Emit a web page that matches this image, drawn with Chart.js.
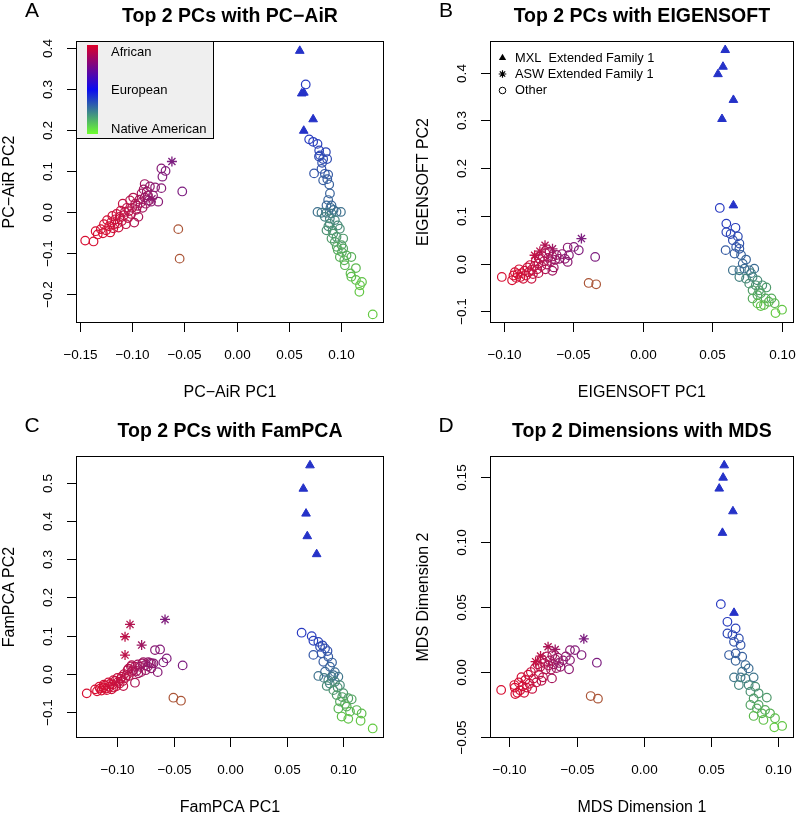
<!DOCTYPE html>
<html><head><meta charset="utf-8">
<script src="https://cdn.jsdelivr.net/npm/chart.js@4.4.0/dist/chart.umd.min.js"></script>
<style>
html,body{margin:0;padding:0;background:#fff;}
#wrap{position:relative;width:800px;height:815px;overflow:hidden;}
canvas{position:absolute;}
</style></head><body>
<div id="wrap">
<canvas id="cA" width="400" height="407" style="left:0;top:0;width:400px;height:407px"></canvas>
<canvas id="cB" width="400" height="407" style="left:400px;top:0;width:400px;height:407px"></canvas>
<canvas id="cC" width="400" height="408" style="left:0;top:407px;width:400px;height:408px"></canvas>
<canvas id="cD" width="400" height="408" style="left:400px;top:407px;width:400px;height:408px"></canvas>
</div>
<script>
// ---------------- DATA ----------------
// Panel A: PC-AiR
const pcairAfrCircles = [[-0.145,-0.070],[-0.137,-0.072],[-0.135,-0.047],[-0.133,-0.055],[-0.130,-0.042],[-0.128,-0.052],[-0.127,-0.030],[-0.125,-0.045],[-0.124,-0.020],[-0.122,-0.035],[-0.121,-0.050],[-0.120,-0.025],[-0.119,-0.010],[-0.118,-0.040],[-0.117,-0.030],[-0.116,-0.018],[-0.115,-0.005],[-0.114,-0.028],[-0.113,-0.038],[-0.112,-0.012],[-0.111,0.003],[-0.110,-0.022],[-0.109,0.020],[-0.108,-0.008],[-0.107,0.000],[-0.106,-0.030],[-0.105,0.010],[-0.104,-0.015],[-0.103,0.002],[-0.102,0.028],[-0.101,-0.005],[-0.100,0.010],[-0.099,0.035],[-0.098,-0.026],[-0.097,0.020],[-0.096,0.005],[-0.095,0.015],[-0.094,-0.012],[-0.093,0.030],[-0.092,0.022],[-0.091,0.045],[-0.090,0.010],[-0.089,0.055],[-0.088,0.035],[-0.088,0.068],[-0.087,0.020],[-0.086,0.050],[-0.085,0.040],[-0.084,0.028],[-0.083,0.062],[-0.082,0.025],[-0.080,0.040],[-0.078,0.060],[-0.075,0.025],[-0.072,0.058],[-0.072,0.106],[-0.068,0.100],[-0.071,0.086],[-0.052,0.050]];
const pcairAdmixedCircles = [[-0.0558,-0.042],[-0.0545,-0.114]];
const pcairMxlCircles = [[0.0663,0.311],[0.0696,0.177],[0.0734,0.171],[0.0776,0.166],[0.0792,0.150],[0.0856,0.146],[0.0800,0.138],[0.079,0.135],[0.083,0.129],[0.0868,0.129],[0.0820,0.120],[0.0814,0.105],[0.0743,0.094],[0.0846,0.093],[0.0878,0.091],[0.0870,0.080],[0.083,0.077],[0.0888,0.067],[0.0895,0.045],[0.0878,0.029],[0.0862,0.016],[0.091,0.016],[0.0900,0.010],[0.0930,0.005],[0.0776,0.0],[0.0814,-0.002],[0.0862,-0.002],[0.091,-0.004],[0.0958,0.0],[0.100,0.0],[0.0846,-0.012],[0.0894,-0.016],[0.0942,-0.020],[0.0894,-0.029],[0.088,-0.035],[0.097,-0.033],[0.099,-0.041],[0.092,-0.045],[0.0862,-0.045],[0.0926,-0.053],[0.0958,-0.061],[0.091,-0.065],[0.1022,-0.065],[0.0942,-0.073],[0.1006,-0.081],[0.096,-0.085],[0.1022,-0.089],[0.097,-0.093],[0.101,-0.098],[0.099,-0.110],[0.1054,-0.106],[0.110,-0.110],[0.1032,-0.118],[0.1038,-0.130],[0.1144,-0.137],[0.1092,-0.150],[0.110,-0.158],[0.1144,-0.166],[0.1202,-0.171],[0.1183,-0.179],[0.1177,-0.195],[0.1305,-0.250]];
const pcairTriangles = [[0.0606,0.393],[0.0625,0.289],[0.0645,0.291],[0.0734,0.226],[0.0644,0.198]];
const pcairStars = [[-0.0619,0.123],[-0.081,0.032]];
const pcairXTickLabels = ["\u22120.15","\u22120.10","\u22120.05","0.00","0.05","0.10"];
const pcairYTickLabels = ["\u22120.2","\u22120.1","0.0","0.1","0.2","0.3","0.4"];

// Panel B: EIGENSOFT
const eigenAfrCircles = [[-0.1014,-0.028],[-0.094,-0.035],[-0.093,-0.025],[-0.092,-0.018],[-0.091,-0.030],[-0.090,-0.022],[-0.089,-0.012],[-0.088,-0.028],[-0.087,-0.020],[-0.086,-0.032],[-0.085,-0.015],[-0.084,-0.025],[-0.083,-0.008],[-0.082,-0.018],[-0.081,-0.003],[-0.080,-0.013],[-0.080,-0.032],[-0.079,-0.022],[-0.078,-0.005],[-0.077,0.005],[-0.076,-0.012],[-0.075,0.000],[-0.075,-0.020],[-0.074,0.010],[-0.073,-0.005],[-0.072,0.015],[-0.071,0.005],[-0.070,0.022],[-0.070,-0.012],[-0.069,-0.002],[-0.068,0.012],[-0.067,0.025],[-0.066,0.005],[-0.065,0.015],[-0.065,-0.015],[-0.064,-0.008],[-0.063,0.008],[-0.062,0.018],[-0.060,0.010],[-0.058,0.020],[-0.056,0.010],[-0.054,0.0336],[-0.0531,0.0175],[-0.054,0.0035],[-0.0495,0.035],[-0.046,0.028],[-0.0342,0.014]];
const eigenAdmixedCircles = [[-0.0389,-0.0406],[-0.0335,-0.0434]];
const eigenMxlCircles = [[0.0555,0.1166],[0.0602,0.0838],[0.0668,0.075],[0.0602,0.066],[0.0633,0.062],[0.0685,0.057],[0.0649,0.049],[0.0696,0.042],[0.0673,0.035],[0.0597,0.0282],[0.0696,0.031],[0.0661,0.021],[0.0708,0.018],[0.0744,0.0084],[0.0649,-0.0141],[0.0696,-0.0141],[0.0732,-0.0106],[0.0767,-0.0141],[0.0803,-0.0106],[0.0696,-0.0281],[0.0744,-0.0316],[0.0791,-0.0281],[0.0826,-0.0351],[0.0767,-0.042],[0.0814,-0.0455],[0.0861,-0.0455],[0.0791,-0.056],[0.0838,-0.056],[0.089,-0.050],[0.0826,-0.066],[0.0791,-0.073],[0.0885,-0.073],[0.0927,-0.073],[0.0826,-0.0834],[0.085,-0.089],[0.0873,-0.087],[0.0908,-0.080],[0.095,-0.083],[0.1003,-0.0966],[0.0956,-0.1036],[0.0720,0.000],[0.0780,-0.020],[0.0850,-0.062]];
const eigenTriangles = [[0.0594,0.4476],[0.0578,0.4126],[0.0542,0.397],[0.0653,0.343],[0.0571,0.303],[0.0653,0.122]];
const eigenStars = [[-0.0441,0.0524],[-0.0703,0.0385],[-0.0649,0.031],[-0.0778,0.0175],[-0.074,0.026]];
const eigenXTickLabels = ["\u22120.10","\u22120.05","0.00","0.05","0.10"];
const eigenYTickLabels = ["\u22120.1","0.0","0.1","0.2","0.3","0.4"];

// Panel C: FamPCA
const fampcaAfrCircles = [[-0.1271,-0.0504],[-0.1197,-0.040],[-0.1153,-0.038],[-0.1109,-0.030],[-0.1065,-0.026],[-0.1035,-0.016],[-0.0991,-0.020],[-0.0962,-0.007],[-0.0917,-0.003],[-0.0873,0.006],[-0.0844,0.019],[-0.0799,0.019],[-0.0755,0.023],[-0.0711,0.029],[-0.0844,-0.0226],[-0.0947,-0.0315],[-0.1035,-0.035],[-0.1094,-0.042],[-0.1124,-0.035],[-0.0873,0.023],[-0.0814,0.002],[-0.0902,0.014],[-0.0770,0.031],[-0.0726,0.031],[-0.0643,0.005],[-0.0667,0.0626],[-0.0622,0.0643],[-0.0563,0.0409],[-0.0593,0.0304],[-0.0696,0.0278],[-0.0422,0.0226],[-0.118,-0.045],[-0.116,-0.033],[-0.114,-0.043],[-0.112,-0.028],[-0.110,-0.038],[-0.108,-0.022],[-0.107,-0.033],[-0.105,-0.040],[-0.104,-0.027],[-0.102,-0.018],[-0.101,-0.032],[-0.100,-0.010],[-0.098,-0.025],[-0.097,-0.012],[-0.095,-0.018],[-0.094,0.000],[-0.093,-0.010],[-0.091,0.010],[-0.090,-0.005],[-0.088,0.020],[-0.086,0.010],[-0.083,0.008],[-0.082,0.025],[-0.079,0.005],[-0.078,0.028],[-0.075,0.010],[-0.073,0.020],[-0.070,0.015],[-0.068,0.028]];
const fampcaAdmixedCircles = [[-0.0504,-0.0617],[-0.0437,-0.0696]];
const fampcaMxlCircles = [[0.0631,0.108],[0.072,0.099],[0.0735,0.087],[0.0779,0.084],[0.0815,0.075],[0.0794,0.071],[0.0735,0.050],[0.0838,0.067],[0.0860,0.060],[0.0808,0.054],[0.0867,0.045],[0.0823,0.032],[0.0900,0.030],[0.0882,0.019],[0.0838,0.006],[0.0925,0.005],[0.0779,-0.005],[0.0912,-0.003],[0.0897,-0.007],[0.0956,-0.007],[0.0830,-0.010],[0.0867,-0.016],[0.0926,-0.020],[0.0880,-0.025],[0.0853,-0.031],[0.097,-0.029],[0.0950,-0.035],[0.0912,-0.042],[0.100,-0.050],[0.0941,-0.055],[0.0990,-0.060],[0.1044,-0.063],[0.1074,-0.066],[0.097,-0.072],[0.1015,-0.078],[0.1030,-0.085],[0.0956,-0.090],[0.1059,-0.098],[0.1118,-0.094],[0.1162,-0.103],[0.0985,-0.111],[0.1044,-0.117],[0.1153,-0.122],[0.126,-0.142]];
const fampcaTriangles = [[0.0705,0.545],[0.0646,0.484],[0.067,0.419],[0.0681,0.360],[0.0764,0.313]];
const fampcaStars = [[-0.0888,0.1296],[-0.0932,0.0974],[-0.0785,0.0757],[-0.0932,0.0496],[-0.0578,0.1426]];
const fampcaXTickLabels = ["\u22120.10","\u22120.05","0.00","0.05","0.10"];
const fampcaYTickLabels = ["\u22120.1","0.0","0.1","0.2","0.3","0.4","0.5"];

// Panel D: MDS
const mdsAfrCircles = [[-0.1061,-0.0138],[-0.0963,-0.010],[-0.0956,-0.0169],[-0.096,-0.012],[-0.094,-0.016],[-0.093,-0.008],[-0.092,-0.014],[-0.091,-0.004],[-0.090,-0.011],[-0.089,-0.016],[-0.088,-0.006],[-0.087,-0.012],[-0.086,-0.002],[-0.085,-0.009],[-0.084,0.000],[-0.083,-0.013],[-0.082,-0.005],[-0.081,0.003],[-0.080,-0.008],[-0.079,0.006],[-0.078,-0.002],[-0.077,0.004],[-0.0761,-0.0067],[-0.076,0.010],[-0.075,-0.004],[-0.074,0.007],[-0.073,0.002],[-0.072,0.012],[-0.071,0.005],[-0.070,0.009],[-0.069,0.002],[-0.0683,-0.0049],[-0.068,0.013],[-0.067,0.006],[-0.066,0.010],[-0.065,0.003],[-0.064,0.011],[-0.063,0.007],[-0.062,0.004],[-0.060,0.009],[-0.058,0.012],[-0.0556,0.0021],[-0.0549,0.0092],[-0.0549,0.0169],[-0.0512,0.0169],[-0.0463,0.0131],[-0.0349,0.0072]];
const mdsAdmixedCircles = [[-0.0395,-0.0185],[-0.0341,-0.0205]];
const mdsMxlCircles = [[0.0573,0.0523],[0.0622,0.0387],[0.0683,0.0336],[0.0622,0.0297],[0.0659,0.0285],[0.0707,0.0259],[0.0671,0.0233],[0.072,0.0208],[0.0634,0.0131],[0.0683,0.0144],[0.0732,0.0118],[0.0683,0.0087],[0.0756,0.0054],[0.078,0.0028],[0.0732,0.0003],[0.0671,-0.0041],[0.072,-0.0041],[0.0756,-0.0049],[0.0817,-0.0041],[0.0707,-0.010],[0.078,-0.010],[0.0829,-0.0113],[0.0793,-0.0151],[0.0854,-0.0164],[0.0817,-0.0203],[0.0915,-0.0197],[0.0793,-0.0254],[0.0854,-0.0254],[0.0841,-0.028],[0.0902,-0.0292],[0.0878,-0.0318],[0.0939,-0.0318],[0.0817,-0.0338],[0.0976,-0.0356],[0.0890,-0.0369],[0.0971,-0.0426],[0.1029,-0.0415]];
const mdsTriangles = [[0.0598,0.1592],[0.059,0.1497],[0.0561,0.1413],[0.0663,0.1238],[0.0585,0.1072],[0.0671,0.0456]];
const mdsStars = [[-0.0446,0.0256],[-0.0712,0.0195],[-0.0659,0.0174],[-0.0768,0.0123],[-0.0805,0.008]];
const mdsXTickLabels = ["\u22120.10","\u22120.05","0.00","0.05","0.10"];
const mdsYTickLabels = ["\u22120.05","0.00","0.05","0.10","0.15"];

const ancestryLegend = ["African","European","Native American"];
const familyLegend = ["MXL  Extended Family 1","ASW Extended Family 1","Other"];

// ---------------- STYLE / HELPERS ----------------
const FONT = '"Liberation Sans", Arial, Helvetica, sans-serif';
const RED=[215,15,50], BLUE=[35,45,205], GREEN=[110,225,45];
function mix(a,e,n){const c=[0,1,2].map(i=>Math.round(a*RED[i]+e*BLUE[i]+n*GREEN[i]));return 'rgb('+c.join(',')+')';}
function toPts(arr){return arr.map(p=>({x:p[0],y:p[1]}));}
function num(s){return parseFloat(s.replace('\u2212','-'));}
function afrColors(circles, pts){
  const xs = circles.map(p=>p[0]).sort((a,b)=>a-b);
  return pts.map(p=>{
    let k=0; while(k<xs.length && xs[k]<p[0]) k++;
    const s = k/(xs.length-1);
    const a = 1-0.5*Math.pow(Math.min(1,s),1.6);
    return mix(a,1-a,0);
  });
}
function mxlColors(pts){
  const ys = pts.map(p=>p[1]).sort((a,b)=>b-a);
  return pts.map(p=>{
    const s = ys.indexOf(p[1])/(ys.length-1);
    const e = 0.93-0.8*s;
    return mix(0,e,1-e);
  });
}

const rPanel = {
  id:'rPanel',
  afterDraw(chart){
    const o = chart.options.plugins.rPanel;
    const ctx = chart.ctx, ca = chart.chartArea;
    const xs = chart.scales.x, ys = chart.scales.y;
    const L=ca.left, R=ca.right, T=ca.top, B=ca.bottom;
    ctx.save();
    ctx.strokeStyle='#000'; ctx.fillStyle='#000'; ctx.lineWidth=1;
    if (o.gradLegend){
      ctx.fillStyle='#efefef';
      ctx.fillRect(L,T,137,97);
      ctx.strokeRect(L+0.5,T+0.5,137,97);
      const g = ctx.createLinearGradient(0,T+4,0,T+93);
      g.addColorStop(0,'rgb(222,0,40)');
      g.addColorStop(0.5,'rgb(10,10,240)');
      g.addColorStop(1,'rgb(110,255,45)');
      ctx.fillStyle=g; ctx.fillRect(L+11,T+4,11,89);
      ctx.fillStyle='#000'; ctx.font='13px '+FONT; ctx.textAlign='left'; ctx.textBaseline='middle';
      ancestryLegend.forEach((t,i)=>ctx.fillText(t,L+35,T+11+i*38.8));
    }
    if (o.symLegend){
      ctx.font='12.8px '+FONT; ctx.textAlign='left'; ctx.textBaseline='middle';
      const sx=L+12.5;
      const rows=[T+17,T+33,T+49.5];
      ctx.beginPath();
      const r=4.2, y0=rows[0];
      ctx.moveTo(sx,y0-r); ctx.lineTo(sx+r*0.866,y0+r*0.5); ctx.lineTo(sx-r*0.866,y0+r*0.5); ctx.closePath(); ctx.fill();
      ctx.beginPath(); const y1=rows[1], rs=3.8;
      ctx.moveTo(sx-rs,y1); ctx.lineTo(sx+rs,y1); ctx.moveTo(sx,y1-rs); ctx.lineTo(sx,y1+rs);
      const d=rs*0.707; ctx.moveTo(sx-d,y1-d); ctx.lineTo(sx+d,y1+d); ctx.moveTo(sx-d,y1+d); ctx.lineTo(sx+d,y1-d);
      ctx.lineWidth=1.2; ctx.stroke();
      ctx.beginPath(); ctx.arc(sx,rows[2],3.3,0,Math.PI*2); ctx.lineWidth=1; ctx.stroke();
      familyLegend.forEach((t,i)=>ctx.fillText(t,L+25,rows[i]));
    }
    ctx.lineWidth=1; ctx.strokeStyle='#000';
    ctx.strokeRect(Math.round(L)+0.5,Math.round(T)+0.5,Math.round(R-L)-1,Math.round(B-T)-1);
    ctx.fillStyle='#000'; ctx.font='13.5px '+FONT; ctx.textAlign='center'; ctx.textBaseline='middle';
    o.xTicks.forEach(t=>{
      const px=Math.round(xs.getPixelForValue(num(t)))+0.5;
      ctx.beginPath(); ctx.moveTo(px,B); ctx.lineTo(px,B+9); ctx.stroke();
      ctx.fillText(t,px,B+32);
    });
    o.yTicks.forEach(t=>{
      const py=Math.round(ys.getPixelForValue(num(t)))+0.5;
      ctx.beginPath(); ctx.moveTo(L,py); ctx.lineTo(L-9,py); ctx.stroke();
      ctx.save(); ctx.translate(L-28,py); ctx.rotate(-Math.PI/2); ctx.fillText(t,0,0); ctx.restore();
    });
    ctx.font='16px '+FONT;
    ctx.fillText(o.xTitle,(L+R)/2,B+70);
    ctx.save(); ctx.translate(L-66,(T+B)/2); ctx.rotate(-Math.PI/2); ctx.fillText(o.yTitle,0,0); ctx.restore();
    ctx.font='bold 19.5px '+FONT;
    ctx.fillText(o.title,(L+R)/2,T-24);
    ctx.font='21px '+FONT;
    ctx.fillText(o.letter,L-44,T-30);
    ctx.restore();
  }
};

function makePanel(id, cfg){
  const ds = [];
  const afrAll = cfg.afr;
  ds.push({data:toPts(cfg.afr), pointStyle:'circle', pointRadius:4.3, pointBorderWidth:1.2,
    pointBackgroundColor:'rgba(0,0,0,0)', pointBorderColor:afrColors(afrAll,cfg.afr)});
  ds.push({data:toPts(cfg.adm), pointStyle:'circle', pointRadius:4.3, pointBorderWidth:1.2,
    pointBackgroundColor:'rgba(0,0,0,0)', pointBorderColor:mix(0.62,0.05,0.33)});
  ds.push({data:toPts(cfg.mxl), pointStyle:'circle', pointRadius:4.3, pointBorderWidth:1.2,
    pointBackgroundColor:'rgba(0,0,0,0)', pointBorderColor:mxlColors(cfg.mxl)});
  ds.push({data:toPts(cfg.tri), pointStyle:'triangle', pointRadius:5, pointBorderWidth:1,
    pointBackgroundColor:mix(0,0.97,0.03), pointBorderColor:mix(0,0.97,0.03)});
  ds.push({data:toPts(cfg.star), pointStyle:'star', pointRadius:5, pointBorderWidth:1.3,
    pointBackgroundColor:'rgba(0,0,0,0)', pointBorderColor:afrColors(afrAll,cfg.star)});
  ds.forEach(d=>{d.showLine=false; d.pointHoverRadius=d.pointRadius;});
  new Chart(document.getElementById(id), {
    type:'scatter',
    data:{datasets:ds},
    options:{
      responsive:false, animation:false, devicePixelRatio:1,
      events:[],
      layout:{padding:cfg.pad},
      scales:{
        x:{type:'linear', display:false, min:cfg.xr[0], max:cfg.xr[1]},
        y:{type:'linear', display:false, min:cfg.yr[0], max:cfg.yr[1]}
      },
      plugins:{legend:{display:false}, tooltip:{enabled:false}, title:{display:false},
        rPanel:{title:cfg.title, letter:cfg.letter, xTitle:cfg.xTitle, yTitle:cfg.yTitle,
          xTicks:cfg.xTicks, yTicks:cfg.yTicks, gradLegend:!!cfg.grad, symLegend:!!cfg.sym}}
    },
    plugins:[rPanel]
  });
}

makePanel('cA',{afr:pcairAfrCircles, adm:pcairAdmixedCircles, mxl:pcairMxlCircles, tri:pcairTriangles, star:pcairStars,
  pad:{left:76,right:16,top:41,bottom:84}, xr:[-0.1538,0.1413], yr:[-0.271,0.417],
  title:'Top 2 PCs with PC\u2212AiR', letter:'A', xTitle:'PC\u2212AiR PC1', yTitle:'PC\u2212AiR PC2',
  xTicks:pcairXTickLabels, yTicks:pcairYTickLabels, grad:true});
makePanel('cB',{afr:eigenAfrCircles, adm:eigenAdmixedCircles, mxl:eigenMxlCircles, tri:eigenTriangles, star:eigenStars,
  pad:{left:90,right:1,top:41,bottom:84}, xr:[-0.1099,0.1087], yr:[-0.1245,0.4665],
  title:'Top 2 PCs with EIGENSOFT', letter:'B', xTitle:'EIGENSOFT PC1', yTitle:'EIGENSOFT PC2',
  xTicks:eigenXTickLabels, yTicks:eigenYTickLabels, sym:true});
makePanel('cC',{afr:fampcaAfrCircles, adm:fampcaAdmixedCircles, mxl:fampcaMxlCircles, tri:fampcaTriangles, star:fampcaStars,
  pad:{left:76,right:16,top:49,bottom:77}, xr:[-0.1366,0.136], yr:[-0.167,0.5694],
  title:'Top 2 PCs with FamPCA', letter:'C', xTitle:'FamPCA PC1', yTitle:'FamPCA PC2',
  xTicks:fampcaXTickLabels, yTicks:fampcaYTickLabels});
makePanel('cD',{afr:mdsAfrCircles, adm:mdsAdmixedCircles, mxl:mdsMxlCircles, tri:mdsTriangles, star:mdsStars,
  pad:{left:90,right:1,top:49,bottom:77}, xr:[-0.1144,0.1115], yr:[-0.0508,0.1664],
  title:'Top 2 Dimensions with MDS', letter:'D', xTitle:'MDS Dimension 1', yTitle:'MDS Dimension 2',
  xTicks:mdsXTickLabels, yTicks:mdsYTickLabels});
</script>
</body></html>
